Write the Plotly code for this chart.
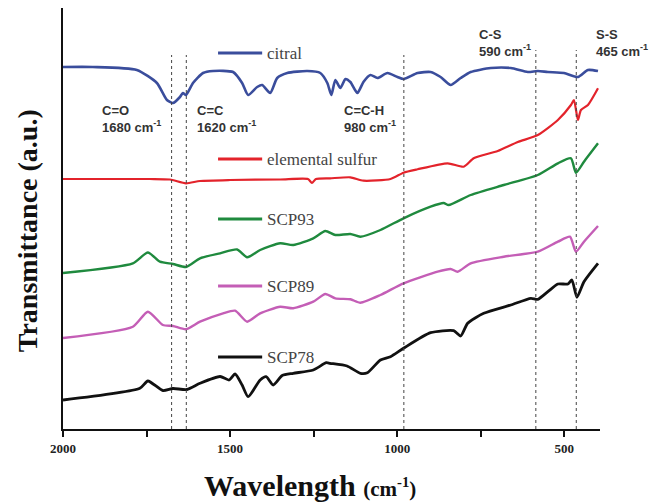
import plotly.graph_objects as go

# ---- data (wavenumber in cm-1, transmittance in arbitrary offset units) ----
citral_x = [2000, 1911, 1779, 1719, 1689, 1671, 1650, 1641, 1632, 1611, 1581, 1551, 1491, 1464, 1446,
            1419, 1404, 1380, 1359, 1329, 1269, 1230, 1209, 1197, 1185, 1170, 1155, 1140, 1119, 1101,
            1080, 1059, 1029, 999, 981, 939, 900, 870, 840, 810, 780, 720, 660, 609, 579, 549, 501,
            459, 429, 399]
citral_y = [362, 362, 359, 346, 329, 326, 332, 336, 334, 346, 356, 358, 357, 346, 334,
            342, 344, 336, 351, 356, 358, 356, 346, 334, 349, 341, 350, 347, 336, 347,
            354, 351, 356, 352, 350, 356, 357, 352, 344, 351, 357, 361, 361, 357, 358, 357, 356,
            352, 359, 358]

sulfur_x = [2000, 1740, 1680, 1632, 1590, 1500, 1350, 1267, 1255, 1243, 1201, 1140, 1101, 1020, 981,
            939, 849, 801, 771, 699, 639, 579, 519, 480, 471, 459, 450, 429, 399]
sulfur_y = [250, 250, 249.5, 245.7, 248, 249, 249.5, 250, 246, 250, 250.7, 251.7, 248.3, 250, 256.3,
            259.7, 265.7, 262.3, 270.7, 278, 287, 294, 309, 324, 329, 309, 319, 324, 340.7]

scp93_x = [2000, 1791, 1746, 1710, 1671, 1632, 1590, 1530, 1479, 1449, 1410, 1350, 1311, 1251, 1215,
           1185, 1140, 1110, 1050, 981, 900, 861, 846, 780, 681, 579, 519, 480, 465, 441, 399]
scp93_y = [156, 165.7, 176.5, 167.3, 165, 162, 170.7, 175.7, 179.5, 171.7, 179, 185.7, 184, 190.7, 198,
           194, 195, 192.3, 199, 210.7, 222.3, 226, 224, 234, 244, 254, 265.7, 270.7, 256.3, 267.3, 285.7]

scp89_x = [2000, 1791, 1746, 1701, 1671, 1632, 1590, 1521, 1485, 1449, 1410, 1350, 1311, 1251, 1215,
           1185, 1140, 1110, 1050, 981, 879, 840, 819, 780, 681, 579, 519, 483, 465, 441, 399]
scp89_y = [91, 102.3, 117.3, 104, 103, 99.7, 107.3, 115.7, 118.3, 107.3, 115.7, 122.3, 120.7, 127.3, 135,
           130.7, 129.7, 126.3, 134, 145.7, 157.3, 160, 157.3, 165.7, 172.3, 177.3, 187.3, 192.3, 177.3,
           187.3, 203]

scp78_x = [2000, 1770, 1746, 1701, 1671, 1629, 1590, 1530, 1503, 1485, 1464, 1446, 1410, 1392, 1371,
           1344, 1311, 1251, 1212, 1201, 1150, 1110, 1089, 1050, 1020, 981, 900, 831, 810, 789, 741,
           660, 600, 579, 549, 519, 489, 477, 462, 441, 399]
scp78_y = [29, 40.7, 48, 38.5, 40.5, 39.5, 45.7, 52.5, 49, 55, 44, 32.3, 49, 52.3, 44,
           53.5, 55.7, 59, 66.3, 65.7, 63, 55.7, 56.3, 69, 72.3, 80.7, 96.3, 98.3, 93, 105.7, 115.7,
           124, 130.7, 129.7, 137.3, 145, 145, 149, 131.7, 147.3, 165.7]

series_names = ["citral", "elemental sulfur", "SCP93", "SCP89", "SCP78"]
series_x = [citral_x, sulfur_x, scp93_x, scp89_x, scp78_x]
series_y = [citral_y, sulfur_y, scp93_y, scp89_y, scp78_y]
series_colors = ["#3a4d9c", "#e3232b", "#1f8a3e", "#c45eb6", "#111111"]
series_widths = [2.6, 2.2, 2.4, 2.4, 2.8]
legend_y = [376, 270, 210, 143, 72]

# peak markers
peak_pos = [1675, 1631, 980, 585, 464]
peak_top = [374, 374, 374, 379, 379]
peak_group = ["C=O", "C=C", "C=C-H", "C-S", "S-S"]
peak_label = ["1680", "1620", "980", "590", "465"]
label_x = [1890, 1605, 1164, 762, 411]
label_y = [310, 310, 310, 386, 386]

x_ticks = [2000, 1500, 1000, 500]
x_ticktext = ["<b>2000</b>", "<b>1500</b>", "<b>1000</b>", "<b>500</b>"]

fig = go.Figure()
for name, xs, ys, c, w in zip(series_names, series_x, series_y, series_colors, series_widths):
    fig.add_trace(go.Scatter(x=xs, y=ys, mode="lines", name=name,
                             line=dict(color=c, width=w, shape="spline", smoothing=0.6),
                             showlegend=False))

for p, top in zip(peak_pos, peak_top):
    fig.add_shape(type="line", xref="x", yref="y", x0=p, x1=p, y0=0, y1=top,
                  line=dict(color="#444444", width=1, dash="dot"))

for g, l, lx, ly in zip(peak_group, peak_label, label_x, label_y):
    fig.add_annotation(xref="x", yref="y", x=lx, y=ly, xanchor="left", yanchor="middle",
                       text=f"<b>{g}</b><br><b>{l} cm<sup>-1</sup></b>", showarrow=False, align="left",
                       font=dict(family="Liberation Sans", size=13, color="#333333"))

for name, c, ly in zip(series_names, series_colors, legend_y):
    fig.add_shape(type="line", xref="x", yref="y", x0=1536, x1=1404, y0=ly, y1=ly,
                  line=dict(color=c, width=3))
    fig.add_annotation(xref="x", yref="y", x=1397, y=ly, xanchor="left", yanchor="middle",
                       text=name, showarrow=False,
                       font=dict(family="Liberation Serif", size=17, color="#444444"))

fig.add_annotation(xref="paper", yref="paper", x=0.46, y=-0.135, xanchor="center", yanchor="middle",
                   text="<b>Wavelength</b> <span style='font-size:21px'><b>(cm<sup>-1</sup>)</b></span>",
                   showarrow=False, font=dict(family="Liberation Serif", size=30, color="#111111"))
fig.add_annotation(xref="paper", yref="paper", x=-0.067, y=0.47, xanchor="center", yanchor="middle",
                   text="<b>Transmittance (a.u.)</b>", textangle=-90, showarrow=False,
                   font=dict(family="Liberation Serif", size=28, color="#111111"))

fig.update_layout(
    width=666, height=503,
    margin=dict(l=63, r=66, t=8, b=74),
    paper_bgcolor="white", plot_bgcolor="white",
    xaxis=dict(range=[2000, 393], showgrid=False, zeroline=False, showline=True,
               linecolor="#111111", linewidth=2, ticks="outside", ticklen=6, tickwidth=1.5,
               tickcolor="#111111", tickvals=x_ticks, ticktext=x_ticktext,
               tickfont=dict(family="Liberation Serif", size=13, color="#222222"),
               minor=dict(tickvals=[1750, 1250, 750], ticks="outside", ticklen=6,
                          tickwidth=1.5, tickcolor="#111111", showgrid=False)),
    yaxis=dict(range=[0, 421], showgrid=False, zeroline=False, showline=True,
               linecolor="#111111", linewidth=2, showticklabels=False, ticks=""),
)

fig.write_html("out.html")
